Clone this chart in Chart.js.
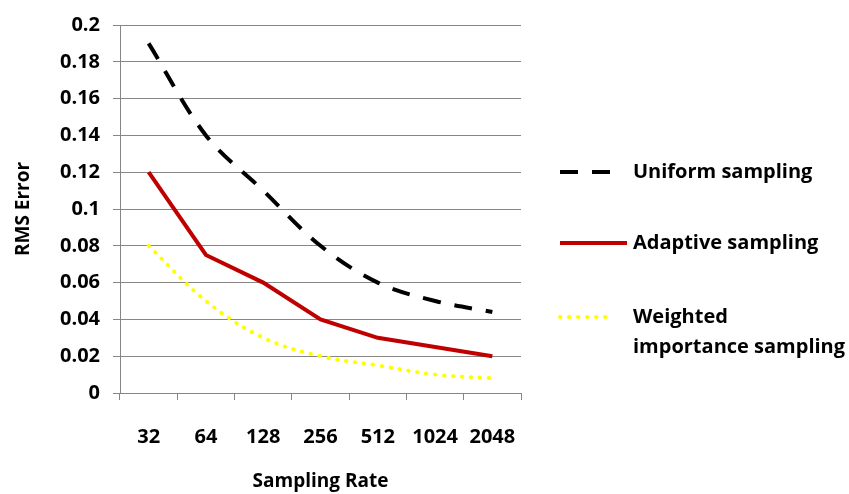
<!DOCTYPE html>
<html>
<head>
  <title>RMS Error vs Sampling Rate</title>
  <script src="https://cdn.jsdelivr.net/npm/chart.js"></script>
</head>
<body style="margin:0;background:#fff;">
  <canvas id="rmsChart" width="849" height="494"></canvas>

  <script>
    const samplingRates = ['32', '64', '128', '256', '512', '1024', '2048'];
    const uniform = [0.19, 0.14, 0.11, 0.08, 0.06, 0.05, 0.044];
    const adaptive = [0.12, 0.075, 0.06, 0.04, 0.03, 0.025, 0.02];
    const weighted = [0.08, 0.05, 0.03, 0.02, 0.015, 0.01, 0.008];
    const yTickLabels = ['0', '0.02', '0.04', '0.06', '0.08', '0.1', '0.12', '0.14', '0.16', '0.18', '0.2'];

    const gridGray = '#868686';
    const fontFamily = '"Open Sans", sans-serif';
    const boldFont = size => ({ family: fontFamily, size, weight: 'bold' });

    // legend drawn to the right of the plot, Excel style
    const sideLegend = {
      id: 'sideLegend',
      afterDraw(chart) {
        const ctx = chart.ctx;
        const rows = [172, 243, 317];
        ctx.save();
        chart.data.datasets.forEach((ds, i) => {
          const y = rows[i];
          ctx.beginPath();
          ctx.strokeStyle = ds.borderColor;
          ctx.lineWidth = ds.borderWidth;
          ctx.lineCap = ds.borderCapStyle || 'butt';
          ctx.setLineDash(ds.borderDash || []);
          ctx.moveTo(560, y);
          ctx.lineTo(i === 1 ? 627 : 614, y);
          ctx.stroke();

          ctx.setLineDash([]);
          ctx.fillStyle = '#000';
          ctx.font = 'bold 20px ' + fontFamily;
          ctx.textBaseline = 'middle';
          const lines = Array.isArray(ds.label) ? ds.label : [ds.label];
          lines.forEach((t, j) => ctx.fillText(t, 633, y + j * 30));
        });
        ctx.restore();
      }
    };

    new Chart(document.getElementById('rmsChart'), {
      type: 'line',
      data: {
        labels: samplingRates,
        datasets: [
          {
            label: 'Uniform sampling',
            data: uniform,
            borderColor: '#000000',
            borderWidth: 4,
            borderDash: [18, 14],
            tension: 0.35,
            pointRadius: 0
          },
          {
            label: 'Adaptive sampling',
            data: adaptive,
            borderColor: '#C00000',
            borderWidth: 4,
            tension: 0,
            pointRadius: 0
          },
          {
            label: ['Weighted', 'importance sampling'],
            data: weighted,
            borderColor: '#FFFF00',
            borderWidth: 4,
            borderDash: [0.5, 8.5],
            borderCapStyle: 'round',
            tension: 0.35,
            pointRadius: 0
          }
        ]
      },
      options: {
        responsive: false,
        animation: false,
        layout: { padding: { left: 0, right: 328, top: 15, bottom: 0 } },
        plugins: {
          legend: { display: false },
          tooltip: { enabled: false }
        },
        scales: {
          x: {
            offset: true,
            afterFit(scale) { scale.height = 101; },
            grid: {
              offset: true,
              drawOnChartArea: false,
              tickLength: 7,
              color: gridGray
            },
            border: { color: gridGray },
            ticks: { color: '#000', font: boldFont(20), padding: 25, maxRotation: 0 },
            title: {
              display: true,
              text: 'Sampling Rate',
              color: '#000',
              font: boldFont(19),
              padding: { top: 0, bottom: 1 }
            }
          },
          y: {
            min: 0,
            max: 0.2,
            afterFit(scale) { scale.width = 120; },
            grid: { tickLength: 7, color: gridGray },
            border: { color: gridGray },
            ticks: {
              stepSize: 0.02,
              color: '#000',
              font: boldFont(20),
              padding: 13,
              callback: (v, i) => yTickLabels[i]
            },
            title: {
              display: true,
              text: 'RMS Error',
              color: '#000',
              font: boldFont(19),
              padding: { top: 12, bottom: 0 }
            }
          }
        }
      },
      plugins: [sideLegend]
    });
  </script>
</body>
</html>
